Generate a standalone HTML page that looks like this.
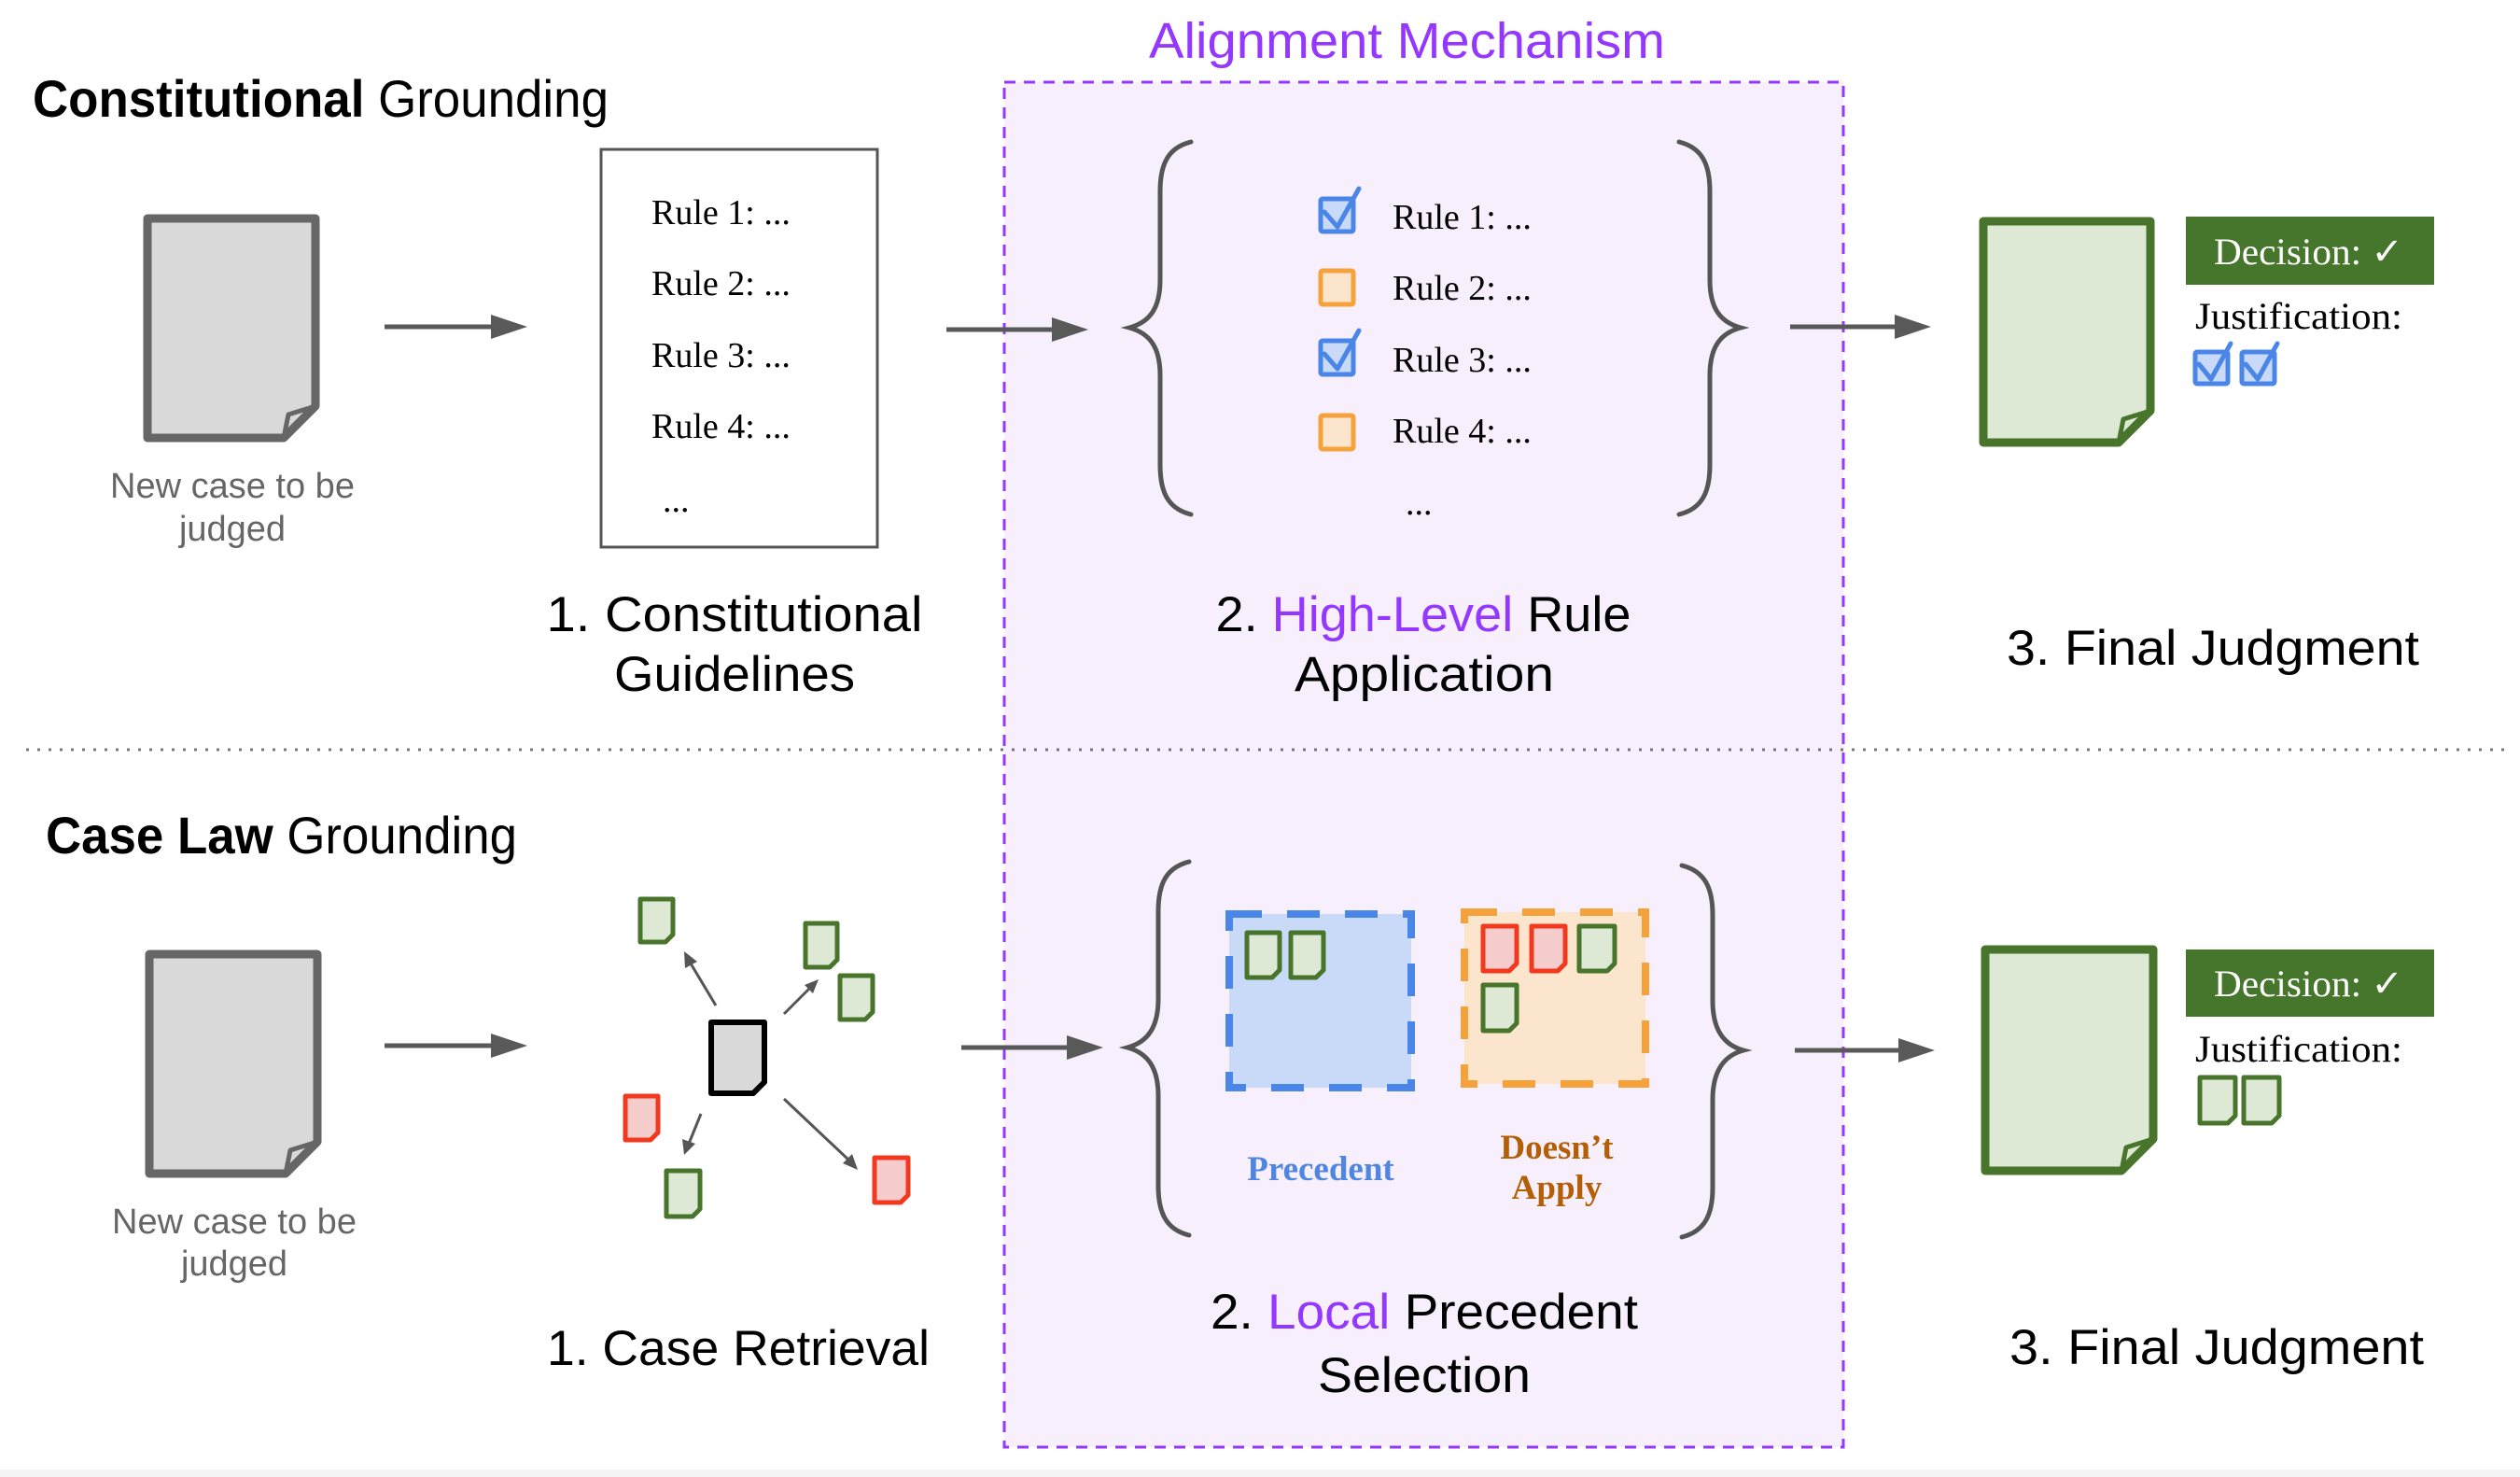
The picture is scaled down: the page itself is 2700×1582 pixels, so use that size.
<!DOCTYPE html>
<html><head><meta charset="utf-8"><style>
html,body{margin:0;padding:0;background:#fff}
svg{display:block}
.sans{font-family:"Liberation Sans",sans-serif}
.serif{font-family:"Liberation Serif",serif}
</style></head><body>
<svg width="2700" height="1582" viewBox="0 0 2700 1582" xmlns="http://www.w3.org/2000/svg">
<rect x="0" y="1574" width="2700" height="8" fill="#f4f4f4"/>
<!-- purple region -->
<rect x="1076" y="88" width="899" height="1462" fill="#f8effd" stroke="#9437ff" stroke-width="3" stroke-dasharray="12 9"/>
<line x1="28" y1="803" x2="2690" y2="803" stroke="#777" stroke-width="3" stroke-dasharray="3 9"/>

<g class="sans">
<text x="35" y="125" font-size="56" textLength="617" lengthAdjust="spacingAndGlyphs"><tspan font-weight="bold">Constitutional</tspan> Grounding</text>
<text x="49" y="914" font-size="56" textLength="505" lengthAdjust="spacingAndGlyphs"><tspan font-weight="bold">Case Law</tspan> Grounding</text>
<text x="1231" y="62" font-size="54" fill="#9437ff" textLength="553" lengthAdjust="spacingAndGlyphs">Alignment Mechanism</text>
<g font-size="38" fill="#666" text-anchor="middle">
<text x="249" y="533">New case to be</text><text x="249" y="579">judged</text>
<text x="251" y="1321">New case to be</text><text x="251" y="1366">judged</text>
</g>
<g font-size="53" text-anchor="middle">
<text x="787" y="676" textLength="403" lengthAdjust="spacingAndGlyphs">1. Constitutional</text>
<text x="787" y="740" textLength="258" lengthAdjust="spacingAndGlyphs">Guidelines</text>
<text x="1525" y="676" textLength="445" lengthAdjust="spacingAndGlyphs">2. <tspan fill="#9437ff">High-Level</tspan> Rule</text>
<text x="1526" y="740" textLength="278" lengthAdjust="spacingAndGlyphs">Application</text>
<text x="2371" y="712" textLength="442" lengthAdjust="spacingAndGlyphs">3. Final Judgment</text>
<text x="791" y="1462" textLength="410" lengthAdjust="spacingAndGlyphs">1. Case Retrieval</text>
<text x="1526" y="1423" textLength="458" lengthAdjust="spacingAndGlyphs">2. <tspan fill="#9437ff">Local</tspan> Precedent</text>
<text x="1526" y="1491" textLength="228" lengthAdjust="spacingAndGlyphs">Selection</text>
<text x="2375" y="1461" textLength="444" lengthAdjust="spacingAndGlyphs">3. Final Judgment</text>
</g>
</g>

<!-- big gray docs -->
<g fill="#d9d9d9" stroke="#666" stroke-width="9" stroke-linejoin="round">
<path d="M158,234 H338 V435 L304,469 H158 Z"/><path d="M338,435 L309,444 L304,469" fill="none" stroke-width="5"/>
<path d="M160,1022 H340 V1223 L306,1257 H160 Z"/><path d="M340,1223 L311,1232 L306,1257" fill="none" stroke-width="5"/>
</g>
<!-- green docs -->
<g fill="#dde9d5" stroke="#48752b" stroke-width="9" stroke-linejoin="round">
<path d="M2125,237 H2304 V440 L2270,474 H2125 Z"/><path d="M2304,440 L2275,449 L2270,474" fill="none" stroke-width="5"/>
<path d="M2127,1017 H2307 V1220 L2273,1254 H2127 Z"/><path d="M2307,1220 L2278,1229 L2273,1254" fill="none" stroke-width="5"/>
</g>

<!-- arrows -->
<g stroke="#595959" stroke-width="5">
<line x1="412" y1="350" x2="530" y2="350"/>
<line x1="1014" y1="353" x2="1130" y2="353"/>
<line x1="1918" y1="350" x2="2032" y2="350"/>
<line x1="412" y1="1120" x2="530" y2="1120"/>
<line x1="1030" y1="1122" x2="1145" y2="1122"/>
<line x1="1923" y1="1125" x2="2036" y2="1125"/>
</g>
<g fill="#595959">
<polygon points="565,350 526,337 526,363"/>
<polygon points="1166,353 1127,340 1127,366"/>
<polygon points="2069,350 2030,337 2030,363"/>
<polygon points="565,1120 526,1107 526,1133"/>
<polygon points="1182,1122 1143,1109 1143,1135"/>
<polygon points="2073,1125 2034,1112 2034,1138"/>
</g>

<!-- rules box -->
<rect x="644" y="160" width="296" height="426" fill="#fff" stroke="#555" stroke-width="3"/>
<g class="serif" font-size="38">
<text x="698" y="240">Rule 1: ...</text><text x="698" y="316">Rule 2: ...</text>
<text x="698" y="393">Rule 3: ...</text><text x="698" y="469">Rule 4: ...</text>
<text x="710" y="548">...</text>
<text x="1492" y="245">Rule 1: ...</text><text x="1492" y="321">Rule 2: ...</text>
<text x="1492" y="398">Rule 3: ...</text><text x="1492" y="474">Rule 4: ...</text>
<text x="1506" y="551">...</text>
</g>

<!-- braces -->
<g fill="none" stroke="#555" stroke-width="5" stroke-linecap="round">
<path d="M1276,152 C1252,158 1243,175 1243,205 V300 C1243,330 1232,345 1210,351 C1232,357 1243,372 1243,402 V498 C1243,528 1252,545 1276,551"/>
<path d="M1799,152 C1823,158 1832,175 1832,205 V300 C1832,330 1843,345 1865,351 C1843,357 1832,372 1832,402 V498 C1832,528 1823,545 1799,551"/>
<path d="M1274,923 C1250,929 1241,946 1241,976 V1070 C1241,1100 1230,1116 1208,1122 C1230,1128 1241,1144 1241,1174 V1270 C1241,1300 1250,1317 1274,1323"/>
<path d="M1802,927 C1826,933 1835,950 1835,980 V1072 C1835,1102 1846,1119 1868,1125 C1846,1131 1835,1148 1835,1178 V1272 C1835,1302 1826,1319 1802,1325"/>
</g>

<!-- checkboxes -->
<g stroke-width="5" stroke-linejoin="round">
<rect x="1415" y="213" width="35" height="35" rx="2" fill="#c9daf8" stroke="#4a86e8"/>
<rect x="1415" y="365" width="35" height="36" rx="2" fill="#c9daf8" stroke="#4a86e8"/>
<rect x="1415" y="290" width="35" height="36" rx="2" fill="#fce5cd" stroke="#f6a23a"/>
<rect x="1415" y="445" width="35" height="36" rx="2" fill="#fce5cd" stroke="#f6a23a"/>
<rect x="2352" y="377" width="35" height="34" rx="2" fill="#c9daf8" stroke="#4a86e8"/>
<rect x="2402" y="377" width="35" height="34" rx="2" fill="#c9daf8" stroke="#4a86e8"/>
</g>
<g fill="none" stroke="#4a86e8" stroke-width="5" stroke-linecap="round" stroke-linejoin="round">
<path d="M1419,227 L1433,243 L1456,202"/>
<path d="M1419,379 L1433,395 L1456,354"/>
<path d="M2356,390 L2369,406 L2390,368"/>
<path d="M2406,390 L2419,406 L2440,368"/>
</g>

<!-- decision boxes -->
<rect x="2342" y="232" width="266" height="73" fill="#46762c"/>
<rect x="2342" y="1017" width="266" height="72" fill="#46762c"/>
<g class="serif" font-size="40">
<text x="2372" y="283" fill="#fff" textLength="203" lengthAdjust="spacingAndGlyphs">Decision: ✓</text>
<text x="2352" y="352" textLength="222" lengthAdjust="spacingAndGlyphs">Justification:</text>
<text x="2372" y="1067" fill="#fff" textLength="203" lengthAdjust="spacingAndGlyphs">Decision: ✓</text>
<text x="2352" y="1137" textLength="222" lengthAdjust="spacingAndGlyphs">Justification:</text>
</g>

<!-- precedent boxes -->
<rect x="1317" y="979" width="195" height="186" fill="#c9daf8" stroke="#4a86e8" stroke-width="8" stroke-dasharray="35 27"/>
<rect x="1569" y="977" width="194" height="184" fill="#fce5cd" stroke="#f6a23a" stroke-width="8" stroke-dasharray="35 27"/>
<g class="serif" font-weight="bold" font-size="37" text-anchor="middle">
<text x="1415" y="1264" fill="#4f86e0">Precedent</text>
<text x="1668" y="1241" fill="#b45f06">Doesn’t</text>
<text x="1668" y="1284" fill="#b45f06">Apply</text>
</g>

<!-- retrieval arrows -->
<g stroke="#555" stroke-width="3">
<line x1="767" y1="1077" x2="740" y2="1032"/>
<line x1="840" y1="1086" x2="868" y2="1058"/>
<line x1="751" y1="1193" x2="738" y2="1225"/>
<line x1="840" y1="1177" x2="910" y2="1243"/>
</g>
<g fill="#555">
<polygon points="733,1019 747,1030 734,1037"/>
<polygon points="877,1049 871,1064 862,1055"/>
<polygon points="733,1237 731,1220 745,1225"/>
<polygon points="919,1253 903,1246 913,1236"/>
</g>
<!-- center doc -->
<path d="M762,1095 H819 V1159 L807,1171 H762 Z" fill="#d9d9d9" stroke="#000" stroke-width="6" stroke-linejoin="round"/>

<!-- small docs -->
<g stroke-width="5" stroke-linejoin="round">
<g fill="#dde9d5" stroke="#48752b">
<path d="M686,963 H721 V1001 L713,1009 H686 Z"/>
<path d="M863,989 H897 V1028 L889,1036 H863 Z"/>
<path d="M900,1045 H935 V1084 L927,1092 H900 Z"/>
<path d="M714,1254 H750 V1295 L742,1303 H714 Z"/>
<path d="M1336,999 H1371 V1039 L1363,1047 H1336 Z"/>
<path d="M1383,999 H1418 V1039 L1410,1047 H1383 Z"/>
<path d="M1692,992 H1730 V1032 L1722,1040 H1692 Z"/>
<path d="M1589,1055 H1625 V1096 L1617,1104 H1589 Z"/>
<path d="M2357,1154 H2395 V1195 L2387,1203 H2357 Z"/>
<path d="M2404,1154 H2442 V1195 L2434,1203 H2404 Z"/>
</g>
<g fill="#f4cccc" stroke="#f0391f">
<path d="M670,1174 H705 V1213 L697,1221 H670 Z"/>
<path d="M937,1240 H973 V1280 L965,1288 H937 Z"/>
<path d="M1589,992 H1625 V1032 L1617,1040 H1589 Z"/>
<path d="M1641,992 H1677 V1032 L1669,1040 H1641 Z"/>
</g>
</g>
</svg>
</body></html>
